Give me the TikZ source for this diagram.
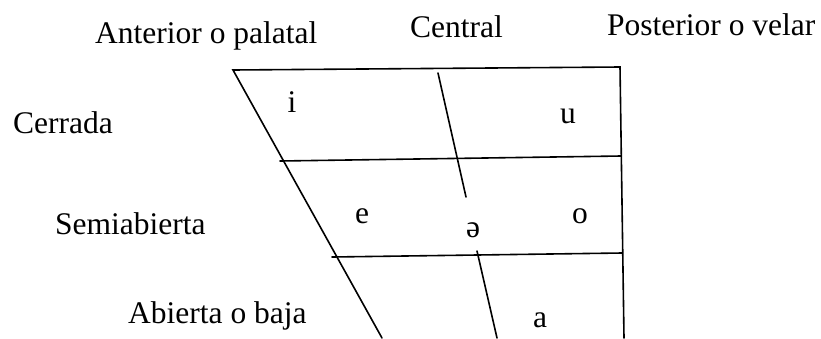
\documentclass[tikz,border=0pt]{standalone}
\usepackage{fontspec}
\setmainfont{Liberation Serif}
\usepackage{tikz}
\usetikzlibrary{positioning}
\tikzset{
  % chart lines
  chartline/.style={black, line width=1.6pt, line cap=round},
  % row / column headings
  headlbl/.style={anchor=base west, inner sep=0pt, font=\fontsize{31.5}{36}\selectfont},
  % vowel symbols
  vowel/.style={anchor=base, inner sep=0pt, font=\fontsize{31.5}{36}\selectfont},
}
\begin{document}
\begin{tikzpicture}[x=1pt, y=-1pt]
  \useasboundingbox (0,0) rectangle (821,338);
  % corners of the chart
  \coordinate (tl) at (233,70);
  \coordinate (tr) at (620,67);
  \coordinate (br) at (624,338);
  \coordinate (bl) at (382,338);
  \coordinate (hal) at (280,161);
  \coordinate (har) at (621,156);
  \coordinate (hbl) at (332,257);
  \coordinate (hbr) at (622,253);
  \coordinate (cat) at (438,73);
  \coordinate (cab) at (466,197);
  \coordinate (cbt) at (477,251);
  \coordinate (cbb) at (497,338);
  % outline and divisions
  \draw[chartline] (bl) -- (tl) -- (tr) -- (br);
  \draw[chartline] (hal) -- (har);
  \draw[chartline] (hbl) -- (hbr);
  \draw[chartline] (cat) -- (cab);
  \draw[chartline] (cbt) -- (cbb);
  % headings
  \node[headlbl] (ant) at (95,43) {Anterior o palatal};
  \node[headlbl] (cen) at (410,37) {Central};
  \node[headlbl] (pos) at (607,35) {Posterior o velar};
  \node[headlbl] (cer) at (13,133) {Cerrada};
  \node[headlbl] (sem) at (55,234) {Semiabierta};
  \node[headlbl] (abi) at (128,323) {Abierta o baja};
  % vowels
  \node[vowel] (vi) at (292,112) {i};
  \node[vowel] (vu) at (568,123) {u};
  \node[vowel] (ve) at (362,223) {e};
  \node[vowel] (vschwa) at (473,237) {ə};
  \node[vowel] (vo) at (580,223) {o};
  \node[vowel] (va) at (540,327) {a};
\end{tikzpicture}
\end{document}
